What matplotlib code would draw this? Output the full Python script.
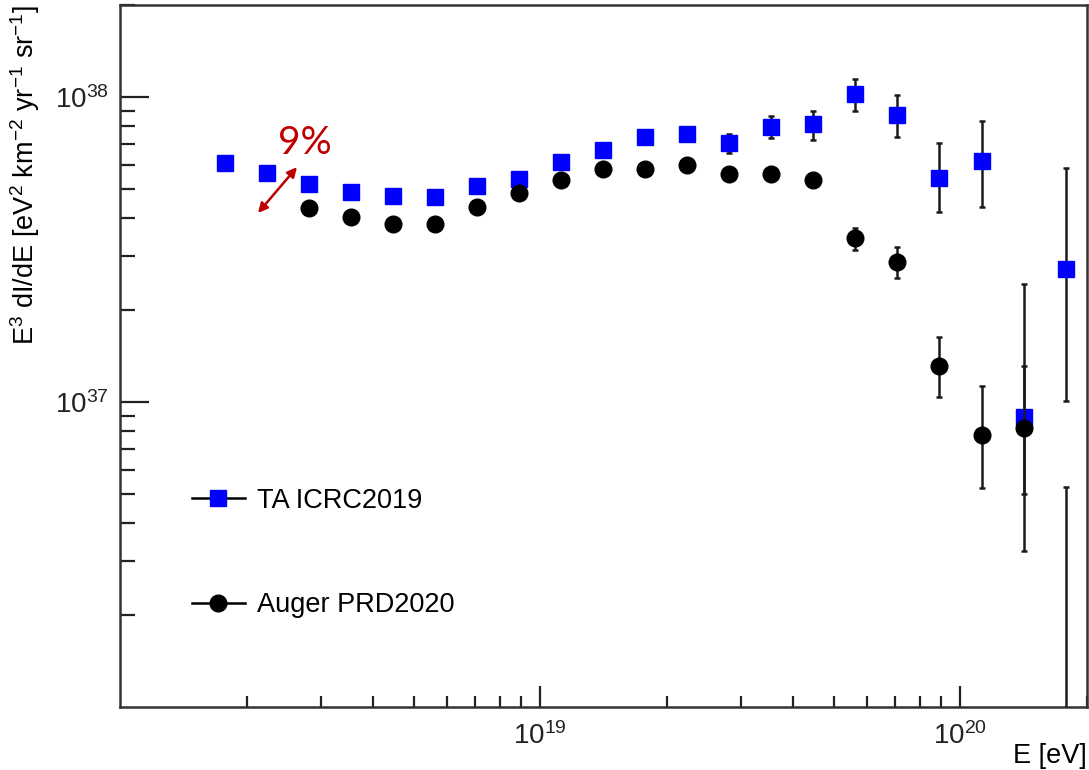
import numpy as np
import matplotlib
matplotlib.use("Agg")
import matplotlib.pyplot as plt
from matplotlib.lines import Line2D
from matplotlib.ticker import LogLocator, NullFormatter, FixedLocator

plt.rcParams["font.family"] = ["Liberation Sans", "DejaVu Sans"]
plt.rcParams["mathtext.fontset"] = "custom"
plt.rcParams["mathtext.rm"] = "Liberation Sans"
plt.rcParams["mathtext.it"] = "Liberation Sans:italic"
plt.rcParams["mathtext.default"] = "regular"

# log10(E/eV) bin centres
ta_logE = [18.25, 18.35, 18.45, 18.55, 18.65, 18.75, 18.85, 18.95, 19.05, 19.15, 19.25,
           19.35, 19.45, 19.55, 19.65, 19.75, 19.85, 19.95, 20.05, 20.15, 20.25]
auger_logE = [18.45, 18.55, 18.65, 18.75, 18.85, 18.95, 19.05, 19.15, 19.25, 19.35,
              19.45, 19.55, 19.65, 19.75, 19.85, 19.95, 20.05, 20.15, 20.25]

# E^3 J in units of 1e37 eV^2 km^-2 yr^-1 sr^-1
ta_flux = [6.07, 5.62, 5.19, 4.86, 4.73, 4.69, 5.11, 5.38, 6.12, 6.67, 7.39,
           7.57, 7.06, 7.97, 8.15, 10.18, 8.74, 5.44, 6.14, 0.890, 2.72]
ta_up = [6.07, 5.62, 5.19, 4.86, 4.73, 4.69, 5.11, 5.38, 6.12, 6.67, 7.39,
         7.57, 7.55, 8.68, 9.01, 11.4, 10.12, 7.06, 8.31, 2.43, 5.84]
ta_lo = [6.07, 5.62, 5.19, 4.86, 4.73, 4.69, 5.11, 5.38, 6.12, 6.67, 7.39,
         7.57, 6.54, 7.33, 7.24, 8.97, 7.39, 4.18, 4.37, 0.324, 1.01]

auger_flux = [4.31, 4.05, 3.82, 3.83, 4.35, 4.84, 5.35, 5.80, 5.81, 5.99,
              5.59, 5.59, 5.32, 3.44, 2.87, 1.31, 0.779, 0.819, 0.03]
auger_up = [4.31, 4.05, 3.82, 3.83, 4.35, 4.84, 5.35, 5.80, 5.81, 5.99,
            5.59, 5.59, 5.32, 3.72, 3.23, 1.63, 1.13, 1.31, 0.528]
auger_lo = [4.31, 4.05, 3.82, 3.83, 4.35, 4.84, 5.35, 5.80, 5.81, 5.99,
            5.59, 5.59, 5.32, 3.15, 2.55, 1.04, 0.524, 0.498, 0.03]

x_major = [1e19, 1e20]
y_major = [1e37, 1e38]

ta_E = 10 ** np.array(ta_logE)
au_E = 10 ** np.array(auger_logE)
ta_y = np.array(ta_flux) * 1e37
au_y = np.array(auger_flux) * 1e37
ta_err = [ta_y - np.array(ta_lo) * 1e37, np.array(ta_up) * 1e37 - ta_y]
au_err = [au_y - np.array(auger_lo) * 1e37, np.array(auger_up) * 1e37 - au_y]

fig = plt.figure(figsize=(10.89, 7.70), dpi=100)
ax = fig.add_axes([120 / 1089, 1 - 707 / 770, 967 / 1089, 702 / 770])

ax.errorbar(ta_E, ta_y, yerr=ta_err, fmt="s", color="#0000ff", ms=11.5,
            ecolor="#1a1a1a", elinewidth=1.8, capsize=2.5, capthick=1.8, zorder=3)
ax.errorbar(au_E, au_y, yerr=au_err, fmt="o", color="black", ms=12,
            ecolor="#1a1a1a", elinewidth=1.8, capsize=2.5, capthick=1.8, zorder=4)

ax.set_xscale("log")
ax.set_yscale("log")
ax.set_xlim(1e18, 2e20)
ax.set_ylim(1e36, 2e38)

ax.xaxis.set_major_locator(FixedLocator(x_major))
ax.yaxis.set_major_locator(FixedLocator(y_major))
for a in (ax.xaxis, ax.yaxis):
    a.set_minor_locator(LogLocator(base=10, subs=np.arange(2, 10)))
    a.set_minor_formatter(NullFormatter())

ax.tick_params(axis="both", which="both", direction="in", width=1.6,
               colors="#222222", labelsize=20, top=False, right=False)
ax.tick_params(axis="x", which="major", length=15, pad=11)
ax.tick_params(axis="x", which="minor", length=8)
ax.tick_params(axis="y", which="major", length=21, pad=8)
ax.tick_params(axis="y", which="minor", length=11)
for s in ax.spines.values():
    s.set_linewidth(1.8)
    s.set_color("#333333")

ax.set_xlabel("E [eV]", fontsize=19.5, ha="right")
ax.xaxis.set_label_coords(1.0, -0.051)
ax.set_ylabel(r"E$^{3}$ dI/dE [eV$^{2}$ km$^{-2}$ yr$^{-1}$ sr$^{-1}$]", fontsize=19.5, ha="right")
ax.yaxis.set_label_coords(-0.081, 1.0)

handles = [
    Line2D([], [], color="black", lw=1.8, marker="s", ms=11.5,
           markerfacecolor="#0000ff", markeredgecolor="#0000ff"),
    Line2D([], [], color="black", lw=1.8, marker="o", ms=12,
           markerfacecolor="black", markeredgecolor="black"),
]
ax.legend(handles, ["TA ICRC2019", "Auger PRD2020"], loc="center left",
          bbox_to_anchor=(0.0745, 0.2194), frameon=False, fontsize=19.5,
          handlelength=1.95, handletextpad=0.45, labelspacing=2.9,
          borderpad=0, borderaxespad=0)

# energy-scale uncertainty marker
ax.annotate("", xy=(0.1427, 0.7037), xytext=(0.183, 0.769), xycoords="axes fraction",
            arrowprops=dict(arrowstyle="<|-|>", color="#c00000", lw=1.8,
                            mutation_scale=14, shrinkA=0, shrinkB=0))
ax.text(0.1913, 0.8034, "9%", transform=ax.transAxes, color="#c00000",
        fontsize=28, family=["Lato", "DejaVu Sans"], ha="center", va="center")

fig.savefig("out.png", dpi=100)
